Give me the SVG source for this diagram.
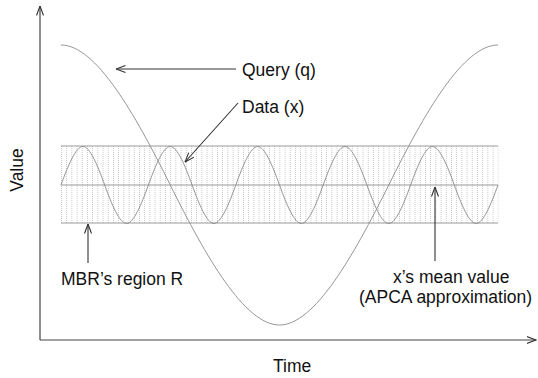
<svg xmlns="http://www.w3.org/2000/svg" width="538" height="378" viewBox="0 0 538 378">
<style>
text{font-family:"Liberation Sans",Arial,sans-serif;font-size:17.5px;fill:#111}
.ax{stroke:#444;stroke-width:1.2;fill:none}
.ar{stroke:#333;stroke-width:1.1;fill:none}
.cv{stroke:#8a8a8a;stroke-width:0.9;fill:none}
.hl{stroke:#9a9a9a;stroke-width:1;fill:none}
</style>
<defs>
<marker id="ah" viewBox="0 0 10 8" refX="9.5" refY="4" markerWidth="10" markerHeight="8" markerUnits="userSpaceOnUse" orient="auto">
<path d="M0,0.5 L9.5,4 L0,7.5" fill="none" stroke="#333" stroke-width="1.1"/>
</marker>
<pattern id="hatch" x="61" y="146" width="5.2" height="2" patternUnits="userSpaceOnUse">
<rect x="0" y="0" width="0.8" height="1" fill="#bdbdbd"/>
</pattern>
</defs>
<g id="axes">
<line class="ax" x1="40" y1="340" x2="40" y2="6" marker-end="url(#ah)"/>
<line class="ax" x1="40" y1="340" x2="536" y2="340" marker-end="url(#ah)"/>
</g>
<g id="mbr">
<rect x="61" y="146" width="437.5" height="77" fill="url(#hatch)"/>
<line class="hl" x1="61" y1="146" x2="498" y2="146"/>
<line class="hl" x1="61" y1="223" x2="498" y2="223"/>
<line class="hl" x1="61" y1="185" x2="498" y2="185"/>
</g>
<g id="query">
<path class="cv" d="M61,45 C95.78,45 134.58,113.2 170.25,185 C205.92,256.8 244.72,325 279.5,325 C314.28,325 353.08,256.8 388.75,185 C424.42,113.2 463.22,45 498,45"/>
</g>
<g id="data">
<path class="cv" d="M61,185
c7.13,-19.74 14.9,-38.5 21.85,-38.5 c6.95,0 14.72,18.76 21.85,38.5 c7.13,19.74 14.9,38.5 21.85,38.5 c6.95,0 14.72,-18.76 21.85,-38.5
c7.13,-19.74 14.9,-38.5 21.85,-38.5 c6.95,0 14.72,18.76 21.85,38.5 c7.13,19.74 14.9,38.5 21.85,38.5 c6.95,0 14.72,-18.76 21.85,-38.5
c7.13,-19.74 14.9,-38.5 21.85,-38.5 c6.95,0 14.72,18.76 21.85,38.5 c7.13,19.74 14.9,38.5 21.85,38.5 c6.95,0 14.72,-18.76 21.85,-38.5
c7.13,-19.74 14.9,-38.5 21.85,-38.5 c6.95,0 14.72,18.76 21.85,38.5 c7.13,19.74 14.9,38.5 21.85,38.5 c6.95,0 14.72,-18.76 21.85,-38.5
c7.13,-19.74 14.9,-38.5 21.85,-38.5 c6.95,0 14.72,18.76 21.85,38.5 c7.13,19.74 14.9,38.5 21.85,38.5 c6.95,0 14.72,-18.76 21.85,-38.5"/>
</g>
<g id="connectors">
<line class="ar" x1="236" y1="69" x2="116" y2="69" marker-end="url(#ah)"/>
<line class="ar" x1="238" y1="103" x2="185" y2="162" marker-end="url(#ah)"/>
<line class="ar" x1="88" y1="263" x2="88" y2="224" marker-end="url(#ah)"/>
<line class="ar" x1="435" y1="261" x2="435" y2="187" marker-end="url(#ah)"/>
</g>
<g id="labels">
<text x="242" y="76">Query (q)</text>
<text x="242" y="113">Data (x)</text>
<text x="61" y="285">MBR’s region R</text>
<text x="393" y="283">x’s mean value</text>
<text x="359" y="303">(APCA approximation)</text>
<text x="273" y="372">Time</text>
<text transform="translate(23,170) rotate(-90)" text-anchor="middle">Value</text>
</g>
</svg>
